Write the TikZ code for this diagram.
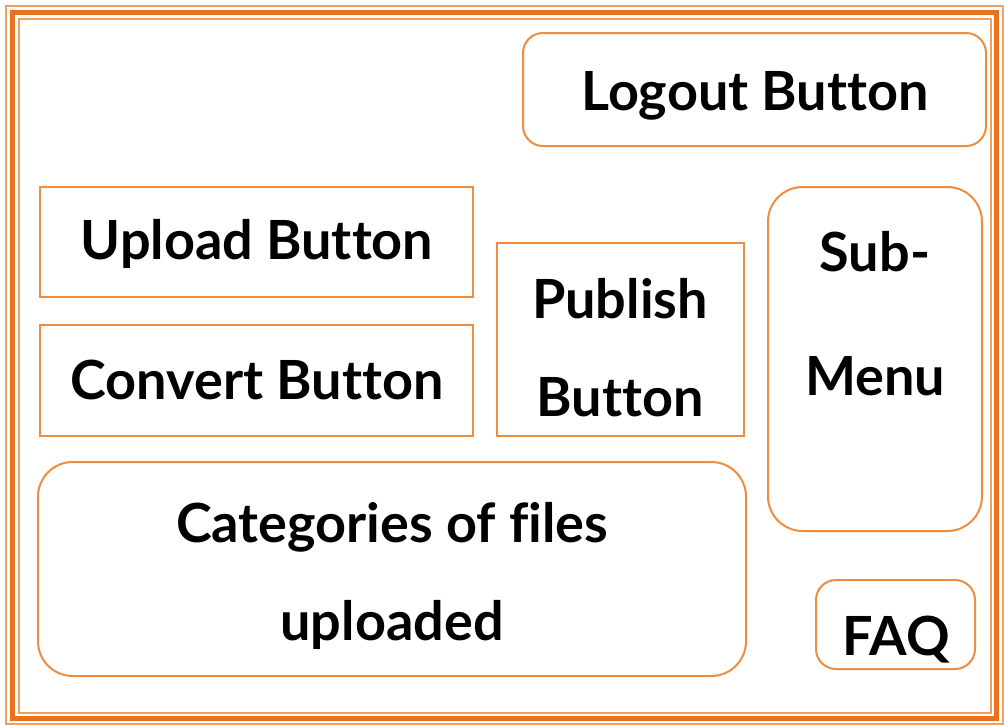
\documentclass[tikz,border=0pt]{standalone}
\usepackage{fontspec}
\setmainfont{Lato}[Ligatures=NoCommon]
\begin{document}
\begin{tikzpicture}[x=0.75pt,y=-0.75pt,
  boxline/.style={draw=boxorange,line width=1.5pt},
  panel/.style={boxline},
  roundpanel/.style={boxline,rounded corners=#1},
  label/.style={anchor=base,font=\fontsize{40.5}{48}\selectfont\bfseries,inner sep=0pt},
]
\definecolor{boxorange}{HTML}{F08C3E}
\definecolor{framedark}{HTML}{E8731E}
\definecolor{framelight}{HTML}{F2A05E}
\useasboundingbox (0,0) rectangle (1004,725);
% triple frame
\draw[framelight,line width=1.8pt] (6,6) rectangle (1003,724);
\draw[framedark,line width=3.2pt] (12.5,12.5) rectangle (996.5,718.5);
\draw[framelight,line width=1.8pt] (19,19) rectangle (991,713);
% panels
\draw[roundpanel=15pt] (523,33) rectangle (986,146);
\node[label] (logout) at (755,110) {Logout Button};
\draw[panel] (40,187) rectangle (473,297);
\node[label] (upload) at (257,259) {Upload Button};
\draw[panel] (40,325) rectangle (473,436);
\node[label] (convert) at (257,399) {Convert Button};
\draw[panel] (497,243) rectangle (744,436);
\node[label] (publish1) at (620,318) {Publish};
\node[label] (publish2) at (620,416) {Button};
\draw[roundpanel=26pt] (768,187) rectangle (982,531);
\node[label] (sub1) at (875,271) {Sub-};
\node[label] (sub2) at (875,395) {Menu};
\draw[roundpanel=26pt] (38,462) rectangle (746,676);
\node[label] (cat1) at (392,542) {Categories of files};
\node[label] (cat2) at (392,640) {uploaded};
\draw[roundpanel=15pt] (816,580) rectangle (975,669);
\node[label] (faq) at (896,655) {FAQ};
\end{tikzpicture}
\end{document}
